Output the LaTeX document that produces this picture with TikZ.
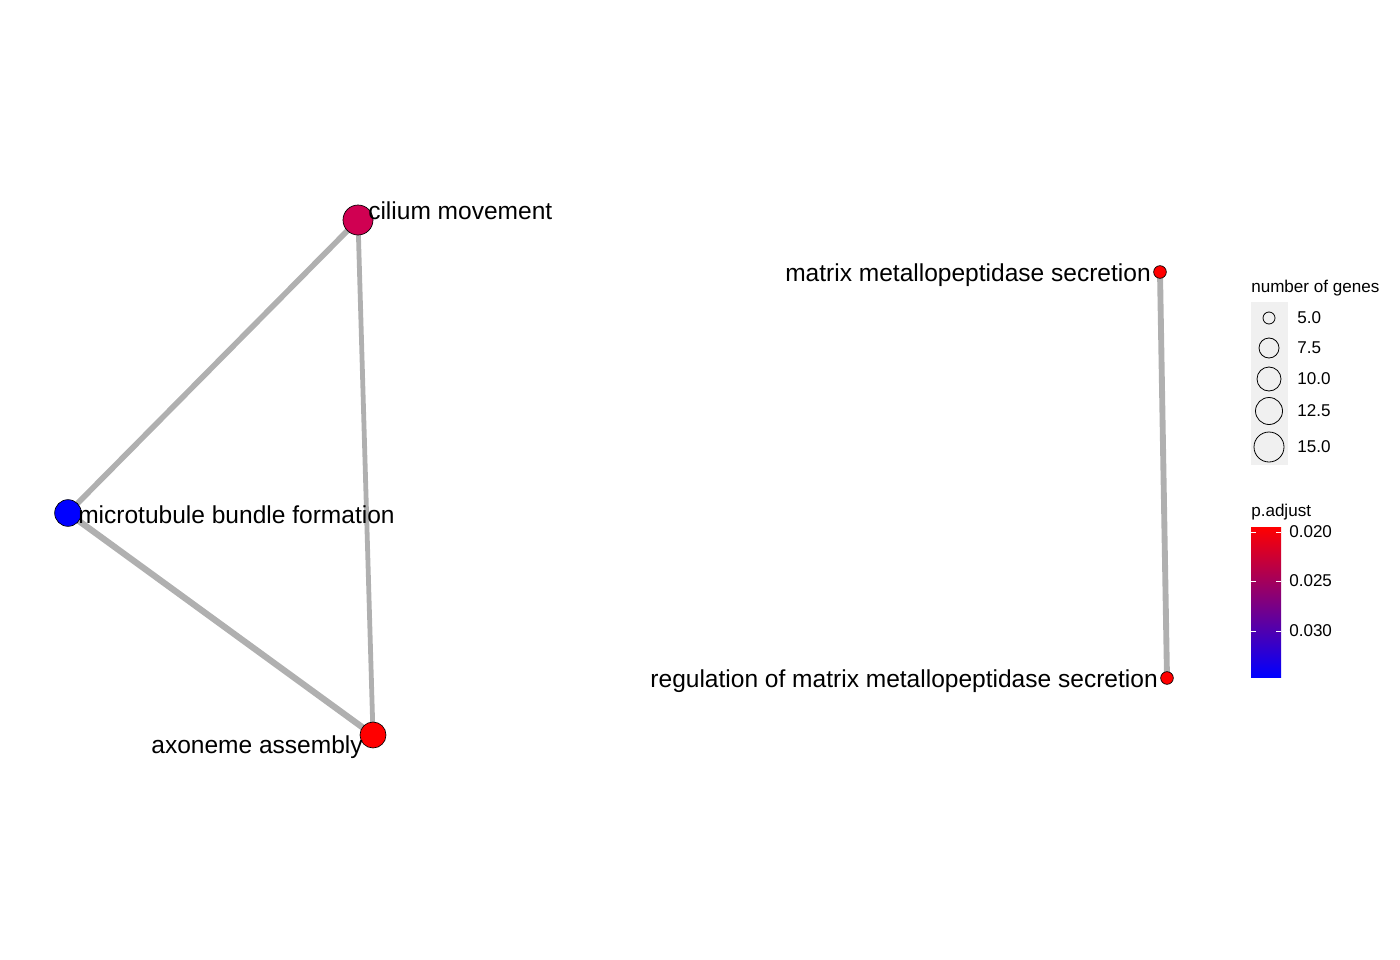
\documentclass[tikz,border=0pt]{standalone}
\usepackage{fontspec}
\setmainfont{Liberation Sans}
\usetikzlibrary{backgrounds}

\definecolor{ciliumcol}{RGB}{208,0,82}
\definecolor{edgegray}{RGB}{176,176,176}
\definecolor{keybg}{RGB}{240,240,240}

\begin{document}
\begin{tikzpicture}[x=0.75pt, y=-0.75pt]
	\tikzstyle{term} = [draw=black, line width=0.5pt, circle, inner sep=0pt]
	\tikzstyle{lbl} = [inner sep=0pt, font=\fontsize{18.4}{20}\selectfont]
	\tikzstyle{key} = [inner sep=0pt, font=\fontsize{12.8}{14}\selectfont]
	\tikzstyle{sim} = [draw=edgegray, line cap=round]
	
	\useasboundingbox (0, 0) rectangle (1400, 960);
	
	% terms, left component
	\node[term, fill=ciliumcol, minimum size=22.5pt] at (358, 220) (cilium) {};
	\node[term, fill=blue, minimum size=20pt] at (68, 513) (micro) {};
	\node[term, fill=red, minimum size=19.5pt] at (373, 735) (axo) {};
	% terms, right component
	\node[term, fill=red, minimum size=9.5pt] at (1160, 272) (mmp) {};
	\node[term, fill=red, minimum size=9.5pt] at (1167, 678) (regmmp) {};
	
	\node[lbl, anchor=west] at (368, 211) (cilium-l) {cilium movement};
	\node[lbl, anchor=west] at (78, 515) (micro-l) {microtubule bundle formation};
	\node[lbl, anchor=east] at (363, 747) (axo-l) {axoneme assembly};
	\node[lbl, anchor=east] at (1151, 275) (mmp-l) {matrix metallopeptidase secretion};
	\node[lbl, anchor=east] at (1158, 681) (regmmp-l) {regulation of matrix metallopeptidase secretion};
	
	\begin{scope}[on background layer]
		\draw[sim, line width=4.2pt] (cilium.center) -- (micro.center);
		\draw[sim, line width=4.7pt] (micro.center) -- (axo.center);
		\draw[sim, line width=3.6pt] (cilium.center) -- (axo.center);
		\draw[sim, line width=4.4pt] (mmp.center) -- (regmmp.center);
	\end{scope}
	
	% legend: number of genes
	\node[key, anchor=west] at (1251, 288) (size-t) {number of genes};
	\fill[keybg] (1251, 302) rectangle (1288, 465);
	\foreach \y/\r/\v in {318/6/5.0, 348/10/7.5, 379/12/10.0, 411/13.5/12.5, 447/15/15.0}
	{
		\node[term, line width=0.6pt, minimum size=1.5*\r pt] at (1269, \y) (size-\y) {};
		\node[key, anchor=west] at (1297, \y) (size-\y-l) {\v};
	}
	
	% legend: p.adjust
	\node[key, anchor=west] at (1251, 512) (col-t) {p.adjust};
	\shade[top color=red, middle color={rgb,255:red,185;green,0;blue,130}, bottom color=blue]
		(1251, 527) rectangle (1281, 677);
	\foreach \y/\v in {532/0.020, 581/0.025, 631/0.030}
	{
		\draw[white, line width=0.5pt] (1251, \y) -- (1256, \y) (1276, \y) -- (1281, \y);
		\node[key, anchor=west] at (1289, \y) (col-\y) {\v};
	}
\end{tikzpicture}
\end{document}
